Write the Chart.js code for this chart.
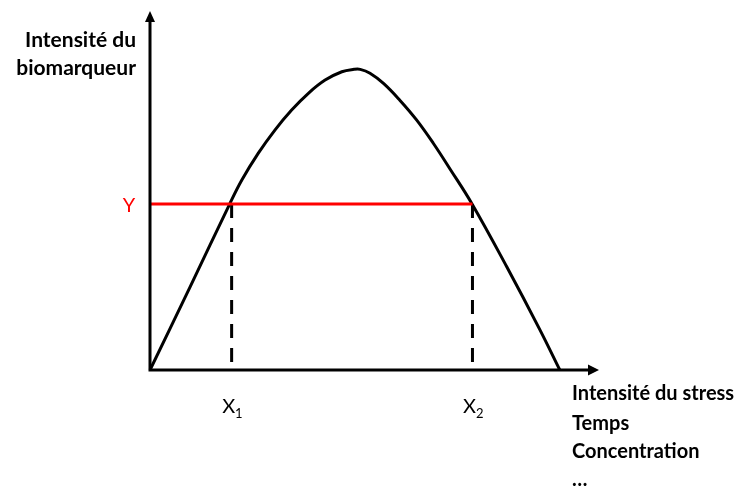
<!DOCTYPE html>
<html>
<head>
<meta charset="utf-8">
<script src="https://cdn.jsdelivr.net/npm/chart.js@4"></script>
<style>
  html, body { margin: 0; padding: 0; background: #ffffff; }
  #wrap { width: 745px; height: 488px; position: relative; }
</style>
</head>
<body>
<div id="wrap"><canvas id="c" width="745" height="488"></canvas></div>
<script>
// ---- data ----
const curveX = [0, 0.98, 1.96, 2.25, 2.65, 3.06, 3.47, 3.88, 4.29, 4.70, 5.0, 5.15, 5.39, 5.72, 6.12, 6.53, 6.94, 7.35, 7.89, 8.74, 9.55, 10.04];
const curveY = [0, 2.77, 5.57, 6.35, 7.24, 8.02, 8.69, 9.25, 9.69, 9.97, 10.05, 10.05, 9.92, 9.58, 9.02, 8.36, 7.58, 6.72, 5.55, 3.45, 1.35, 0];
const thresholdY = 5.55;
const x1Value = 2.0;
const x2Value = 7.9;
const xMax = 11;
const yMax = 12;
const yTitleLines = ["Intensité du", "biomarqueur"];
const xTitleLines = ["Intensité du stress", "Temps", "Concentration", "…"];
const yMarkLabel = "Y";
const xMarkLabels = [["X", "1"], ["X", "2"]];

const curvePoints = curveX.map((x, i) => ({ x: x, y: curveY[i] }));

const annotationPlugin = {
  id: 'schema',
  afterDatasetsDraw(chart) {
    const ctx = chart.ctx;
    const xs = chart.scales.x, ys = chart.scales.y;
    const x0 = xs.getPixelForValue(0), xEnd = xs.getPixelForValue(xMax);
    const y0 = ys.getPixelForValue(0), yEnd = ys.getPixelForValue(yMax);
    ctx.save();
    // axes
    ctx.strokeStyle = '#000'; ctx.fillStyle = '#000';
    ctx.lineWidth = 3; ctx.lineCap = 'butt';
    ctx.beginPath();
    ctx.moveTo(x0, y0 + 1.5); ctx.lineTo(x0, yEnd + 9);
    ctx.moveTo(x0 - 1.5, y0); ctx.lineTo(xEnd - 9, y0);
    ctx.stroke();
    // arrow heads
    ctx.beginPath();
    ctx.moveTo(x0, yEnd); ctx.lineTo(x0 - 5, yEnd + 11); ctx.lineTo(x0 + 5, yEnd + 11); ctx.closePath();
    ctx.fill();
    ctx.beginPath();
    ctx.moveTo(xEnd, y0); ctx.lineTo(xEnd - 11, y0 - 5.5); ctx.lineTo(xEnd - 11, y0 + 5.5); ctx.closePath();
    ctx.fill();

    // y title
    ctx.font = 'bold 21px Lato';
    ctx.textAlign = 'right'; ctx.textBaseline = 'alphabetic';
    ctx.fillText(yTitleLines[0], x0 - 14, 47);
    ctx.fillText(yTitleLines[1], x0 - 14, 75);

    // x title
    ctx.font = 'bold 20px Lato';
    ctx.textAlign = 'left';
    const xt = [400, 430, 458, 486];
    xTitleLines.forEach((t, i) => ctx.fillText(t, 572, xt[i]));

    // Y label
    ctx.fillStyle = '#ff0000';
    ctx.font = '20px Lato';
    ctx.textAlign = 'center';
    ctx.fillText(yMarkLabel, x0 - 21, ys.getPixelForValue(thresholdY) + 8);

    // X labels
    ctx.fillStyle = '#000';
    [x1Value, x2Value].forEach((v, i) => {
      const px = xs.getPixelForValue(v);
      ctx.textAlign = 'left';
      ctx.font = '20px Lato';
      const base = y0 + 43;
      ctx.fillText(xMarkLabels[i][0], px - 9.5, base);
      const w = ctx.measureText(xMarkLabels[i][0]).width;
      ctx.font = '13px Lato';
      ctx.fillText(xMarkLabels[i][1], px - 9.5 + w, base + 5);
    });
    ctx.restore();
  }
};

new Chart(document.getElementById('c'), {
  type: 'scatter',
  data: {
    datasets: [
      {
        label: 'seuil',
        data: [{ x: 0, y: thresholdY }, { x: x2Value, y: thresholdY }],
        showLine: true, borderColor: '#ff0000', borderWidth: 3,
        pointRadius: 0, clip: false, order: 0
      },
      {
        label: 'X1',
        data: [{ x: x1Value, y: thresholdY }, { x: x1Value, y: 0 }],
        showLine: true, borderColor: '#000', borderWidth: 3, borderDash: [14, 10],
        pointRadius: 0, clip: false, order: 1
      },
      {
        label: 'X2',
        data: [{ x: x2Value, y: thresholdY }, { x: x2Value, y: 0 }],
        showLine: true, borderColor: '#000', borderWidth: 3, borderDash: [14, 10],
        pointRadius: 0, clip: false, order: 1
      },
      {
        label: 'courbe',
        data: curvePoints,
        showLine: true, borderColor: '#000', borderWidth: 3,
        tension: 0.4,
        pointRadius: 0, clip: false, order: 2
      }
    ]
  },
  options: {
    responsive: false,
    animation: false,
    events: [],
    layout: { padding: { left: 150, right: 146, top: 11, bottom: 118 } },
    plugins: { legend: { display: false }, tooltip: { enabled: false }, title: { display: false } },
    scales: {
      x: { type: 'linear', min: 0, max: xMax, display: false },
      y: { type: 'linear', min: 0, max: yMax, display: false }
    }
  },
  plugins: [annotationPlugin]
});
</script>
</body>
</html>
